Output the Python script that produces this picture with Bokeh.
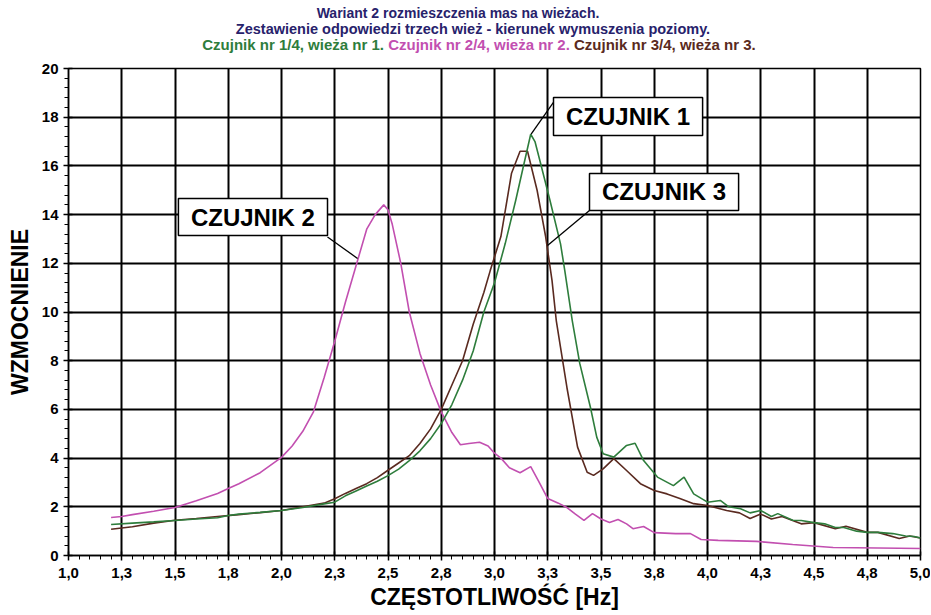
import numpy as np
from bokeh.plotting import figure
from bokeh.layouts import column
from bokeh.models import FixedTicker, Label, Range1d, Div
from bokeh.embed import file_html
from bokeh.resources import INLINE

# ---------------- data ----------------
# Czujnik nr 1/4, wieza nr 1 (green)
c1_x = [1.20, 1.30, 1.40, 1.50, 1.60, 1.70, 1.75, 1.80, 1.90, 2.00,
        2.10, 2.20, 2.25, 2.30, 2.35, 2.40, 2.45, 2.50, 2.55, 2.60,
        2.65, 2.70, 2.75, 2.80, 2.85, 2.90, 2.95, 3.00, 3.05, 3.10,
        3.14, 3.17, 3.19, 3.215, 3.26, 3.31, 3.33, 3.365, 3.40, 3.45,
        3.48, 3.51, 3.56, 3.62, 3.66, 3.70, 3.765, 3.84, 3.89, 3.935,
        4.00, 4.06, 4.10, 4.155, 4.20, 4.25, 4.30, 4.33, 4.40, 4.44,
        4.50, 4.55, 4.60, 4.64, 4.70, 4.75, 4.80, 4.87, 4.93, 4.97, 5.00]
c1_y = [1.27, 1.33, 1.38, 1.44, 1.50, 1.55, 1.64, 1.70, 1.77, 1.85,
        1.97, 2.12, 2.19, 2.45, 2.65, 2.85, 3.05, 3.28, 3.55, 3.90,
        4.30, 4.80, 5.42, 6.20, 7.20, 8.40, 10.00, 11.20, 12.80, 14.60,
        16.15, 17.30, 17.00, 16.15, 14.60, 12.80, 11.70, 9.65, 7.90, 6.10,
        4.86, 4.18, 4.04, 4.52, 4.61, 3.90, 3.22, 2.87, 3.22, 2.53,
        2.19, 2.26, 2.00, 1.92, 1.75, 1.85, 1.60, 1.72, 1.45, 1.44,
        1.35, 1.30, 1.15, 1.15, 1.00, 0.95, 0.95, 0.90, 0.80, 0.78, 0.72]

# Czujnik nr 2/4, wieza nr 2 (magenta)
c2_x = [1.20, 1.25, 1.30, 1.40, 1.50, 1.60, 1.70, 1.75, 1.80, 1.90,
        2.00, 2.05, 2.10, 2.15, 2.20, 2.25, 2.30, 2.35, 2.40, 2.44,
        2.48, 2.50, 2.52, 2.56, 2.60, 2.65, 2.70, 2.75, 2.80, 2.84,
        2.88, 2.93, 2.97, 3.00, 3.03, 3.07, 3.12, 3.17, 3.21, 3.25,
        3.30, 3.34, 3.38, 3.42, 3.46, 3.50, 3.54, 3.58, 3.62, 3.65,
        3.70, 3.75, 3.85, 3.92, 3.97, 4.05, 4.23, 4.40, 4.59, 4.80, 5.00]
c2_y = [1.56, 1.60, 1.68, 1.82, 1.97, 2.25, 2.55, 2.75, 2.95, 3.40,
        4.03, 4.50, 5.10, 5.90, 7.30, 8.80, 10.40, 11.90, 13.40, 14.00,
        14.40, 14.20, 13.60, 12.00, 10.00, 8.30, 7.00, 5.90, 5.05, 4.55,
        4.60, 4.65, 4.50, 4.20, 4.00, 3.60, 3.40, 3.65, 3.00, 2.34,
        2.15, 1.97, 1.70, 1.44, 1.72, 1.50, 1.36, 1.48, 1.30, 1.10,
        1.19, 0.94, 0.90, 0.90, 0.66, 0.62, 0.58, 0.45, 0.33, 0.31, 0.29]

# Czujnik nr 3/4, wieza nr 3 (brown)
c3_x = [1.20, 1.30, 1.40, 1.50, 1.60, 1.70, 1.80, 1.90, 2.00,
        2.10, 2.20, 2.25, 2.30, 2.35, 2.40, 2.45, 2.50, 2.55, 2.60,
        2.65, 2.70, 2.75, 2.80, 2.85, 2.90, 2.95, 2.98, 3.03, 3.08,
        3.12, 3.155, 3.20, 3.24, 3.27, 3.29, 3.31, 3.34, 3.39, 3.435,
        3.465, 3.51, 3.56, 3.62, 3.685, 3.75, 3.81, 3.87, 3.935, 4.00,
        4.09, 4.15, 4.20, 4.25, 4.30, 4.35, 4.44, 4.50, 4.60, 4.65,
        4.75, 4.80, 4.90, 4.95, 5.00]
c3_y = [1.08, 1.18, 1.33, 1.45, 1.52, 1.60, 1.68, 1.76, 1.85,
        2.00, 2.15, 2.33, 2.55, 2.75, 2.95, 3.20, 3.50, 3.80, 4.10,
        4.60, 5.20, 6.00, 7.00, 8.00, 9.50, 10.80, 11.70, 13.10, 15.70,
        16.60, 16.60, 15.00, 13.10, 11.30, 9.65, 8.55, 6.90, 4.45, 3.42,
        3.29, 3.56, 3.98, 3.49, 2.95, 2.67, 2.53, 2.34, 2.13, 2.05,
        1.85, 1.75, 1.52, 1.70, 1.50, 1.60, 1.30, 1.35, 1.10, 1.20,
        0.95, 0.95, 0.70, 0.80, 0.72]

x_ticks = [1.0, 1.25, 1.5, 1.75, 2.0, 2.25, 2.5, 2.75, 3.0,
           3.25, 3.5, 3.75, 4.0, 4.25, 4.5, 4.75, 5.0]
x_tick_labels = ["1,0", "1,3", "1,5", "1,8", "2,0", "2,3", "2,5", "2,8", "3,0",
                 "3,3", "3,5", "3,8", "4,0", "4,3", "4,5", "4,8", "5,0"]
y_ticks = [0, 2, 4, 6, 8, 10, 12, 14, 16, 18, 20]

title_lines = ["Wariant 2 rozmieszczenia mas na wieżach.",
               "Zestawienie odpowiedzi trzech wież - kierunek wymuszenia poziomy."]
legend_texts = ["Czujnik nr 1/4, wieża nr 1.",
                "Czujnik nr 2/4, wieża nr 2.",
                "Czujnik nr 3/4, wieża nr 3."]
series_names = ["CZUJNIK 1", "CZUJNIK 2", "CZUJNIK 3"]
x_title = "CZĘSTOTLIWOŚĆ [Hz]"
y_title = "WZMOCNIENIE"

# ---------------- style ----------------
FONT = "Liberation Sans"
GREEN = "#2e7d3c"
MAGENTA = "#c24fb0"
BROWN = "#5a2a20"
NAVY = "#27226b"
HEAD_H = 60

# ---------------- header (titles) ----------------
css_font = "font-family:'Liberation Sans',Arial,sans-serif;font-weight:bold;white-space:nowrap;"
line_specs = [(458, 5, 14), (473, 21, 14.5)]
parts = []
for (cx, top, fs), t in zip(line_specs, title_lines):
    parts.append(
        f'<div style="position:absolute;left:{cx}px;top:{top}px;transform:translateX(-50%);'
        f'font-size:{fs}px;line-height:16px;color:{NAVY};">{t}</div>')
spans = " ".join(f'<span style="color:{c};">{t}</span>'
                 for t, c in zip(legend_texts, [GREEN, MAGENTA, BROWN]))
parts.append(
    f'<div style="position:absolute;left:479px;top:37px;transform:translateX(-50%);'
    f'font-size:15px;line-height:16px;">{spans}</div>')
header_html = (f'<div style="position:relative;width:930px;height:{HEAD_H}px;{css_font}">'
               + "".join(parts) + '</div>')
header = Div(text=header_html, width=930, height=HEAD_H, margin=(0, 0, 0, 0))

# ---------------- figure ----------------
p = figure(frame_width=852, frame_height=487,
           x_range=Range1d(1.0, 5.0), y_range=Range1d(0, 20),
           output_backend="svg", toolbar_location=None,
           min_border_left=68, min_border_right=10,
           min_border_top=8, min_border_bottom=40,
           background_fill_color="white", border_fill_color="white",
           margin=(0, 0, 0, 0))

xt = FixedTicker(ticks=x_ticks, minor_ticks=list(np.round(np.arange(1.0, 5.0001, 0.05), 3)))
yt = FixedTicker(ticks=y_ticks, minor_ticks=list(np.round(np.arange(0, 20.0001, 0.4), 3)))
p.xaxis.ticker = xt
p.yaxis.ticker = yt
p.xaxis.major_label_overrides = {t: l for t, l in zip(x_ticks, x_tick_labels)}

for ax in (p.xaxis, p.yaxis):
    ax.axis_line_color = "black"
    ax.axis_line_width = 1.5
    ax.major_tick_line_color = "black"
    ax.major_tick_line_width = 1.5
    ax.minor_tick_line_color = "black"
    ax.minor_tick_line_width = 1
    ax.major_tick_in = 4
    ax.major_tick_out = 5
    ax.minor_tick_in = 0
    ax.minor_tick_out = 4
    ax.major_label_text_font = FONT
    ax.major_label_text_font_style = "bold"
    ax.major_label_text_font_size = "15px"
    ax.major_label_text_color = "black"
    ax.axis_label_text_font = FONT
    ax.axis_label_text_font_style = "bold"
    ax.axis_label_text_color = "black"
p.xaxis.major_label_standoff = 7
p.yaxis.major_label_standoff = 5
p.xaxis.axis_label = x_title
p.yaxis.axis_label = y_title
p.xaxis.axis_label_text_font_size = "23px"
p.yaxis.axis_label_text_font_size = "23px"
p.xaxis.axis_label_standoff = 3
p.yaxis.axis_label_standoff = 6

for g in (p.xgrid, p.ygrid):
    g.grid_line_color = "black"
    g.grid_line_width = 2
    g.grid_line_alpha = 1.0
p.outline_line_color = "black"
p.outline_line_width = 1.5

p.line(c2_x, c2_y, line_color=MAGENTA, line_width=1.6)
p.line(c3_x, c3_y, line_color=BROWN, line_width=1.6)
p.line(c1_x, c1_y, line_color=GREEN, line_width=1.6)

# callout boxes (data coords)
box_left = [3.277, 1.516, 3.446]
box_right = [3.977, 2.216, 4.146]
box_bottom = [17.25, 13.14, 14.17]
box_top = [18.81, 14.66, 15.69]
lead_x0 = [3.290, 2.216, 3.446]
lead_y0 = [18.77, 13.08, 14.17]
lead_x1 = [3.172, 2.357, 3.249]
lead_y1 = [17.30, 12.20, 12.73]

p.segment(x0=lead_x0, y0=lead_y0, x1=lead_x1, y1=lead_y1, line_color="black", line_width=1.3)
p.quad(left=box_left, right=box_right, bottom=box_bottom, top=box_top,
       fill_color="white", line_color="black", line_width=1.5)
for i, name in enumerate(series_names):
    p.add_layout(Label(x=(box_left[i] + box_right[i]) / 2, y=(box_bottom[i] + box_top[i]) / 2,
                       text=name, text_font=FONT, text_font_style="bold",
                       text_font_size="24px", text_color="black",
                       text_align="center", text_baseline="middle"))

layout = column(header, p, spacing=0, margin=(0, 0, 0, 0))
open("out.html", "w").write(file_html(layout, INLINE))
